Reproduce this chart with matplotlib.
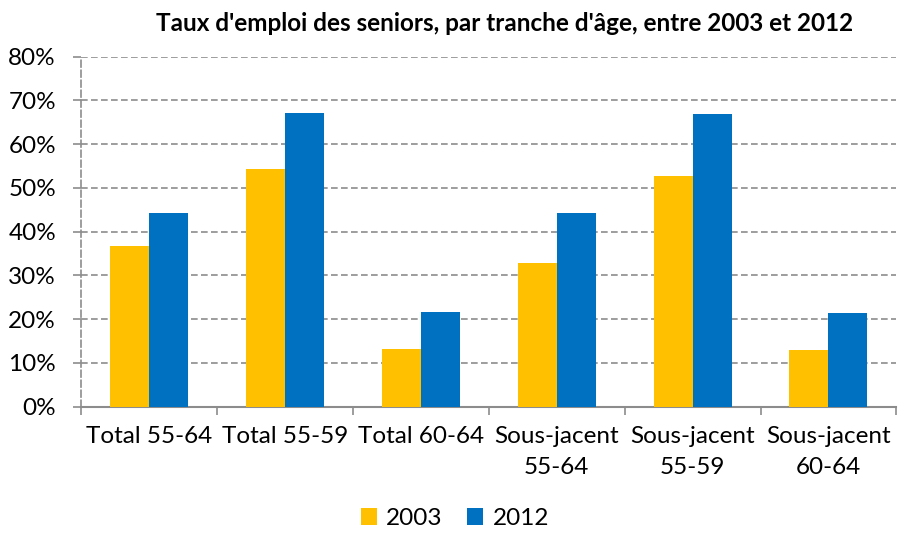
import matplotlib
matplotlib.use("Agg")
import matplotlib.pyplot as plt
import numpy as np
from matplotlib.ticker import FuncFormatter, MultipleLocator

categories = ["Total 55-64", "Total 55-59", "Total 60-64",
              "Sous-jacent\n55-64", "Sous-jacent\n55-59", "Sous-jacent\n60-64"]
series_2003 = [36.8, 54.3, 13.1, 32.8, 52.7, 13.0]
series_2012 = [44.3, 67.1, 21.6, 44.2, 67.0, 21.5]
series_names = ["2003", "2012"]
colors = ["#FFC000", "#0070C0"]
title = "Taux d'emploi des seniors, par tranche d'âge, entre 2003 et 2012"

plt.rcParams['font.family'] = ['Lato', 'DejaVu Sans']

fig = plt.figure(figsize=(9.01, 5.39), dpi=100)
ax = fig.add_axes([0.0899, 0.2454, 0.905, 0.6494])

x = np.arange(len(categories))
w = 0.287
ax.bar(x - w/2, series_2003, w, color=colors[0], label=series_names[0], zorder=3)
ax.bar(x + w/2, series_2012, w, color=colors[1], label=series_names[1], zorder=3)

ax.set_xlim(-0.5, len(categories) - 0.5)
ax.set_ylim(0, 80)
ax.yaxis.set_major_locator(MultipleLocator(10))
ax.yaxis.set_major_formatter(FuncFormatter(lambda v, p: f"{int(v)}%"))
ax.grid(axis='y', color='#8C8C8C', linestyle=(0, (4, 2)), linewidth=1.2, zorder=0)

for s in ['top', 'right']:
    ax.spines[s].set_visible(False)
ax.spines['left'].set_color('#8C8C8C')
ax.spines['left'].set_linestyle((0, (4, 2)))
ax.spines['left'].set_linewidth(1.2)
ax.spines['bottom'].set_color('#8C8C8C')
ax.spines['bottom'].set_linewidth(1.5)

ax.set_xticks(x)
ax.set_xticklabels(categories, fontsize=17.5, linespacing=1.6)
ax.tick_params(axis='x', length=0, pad=14)
ax.set_xticks(np.arange(-0.5, len(categories) + 0.5, 1), minor=True)
ax.tick_params(axis='x', which='minor', length=6, color='#8C8C8C', width=1.2)
ax.tick_params(axis='y', labelsize=17.5, length=6, color='#8C8C8C', width=1.2, pad=12)

fig.text(0.56, 0.957, title, ha='center', va='center', fontsize=17.5, fontweight='bold')

fig.legend(loc='lower center', bbox_to_anchor=(0.505, -0.022), ncol=2, frameon=False,
           fontsize=17.5, handlelength=0.65, handleheight=0.65, handletextpad=0.4,
           columnspacing=1.0)

fig.savefig("out.png", dpi=100)
